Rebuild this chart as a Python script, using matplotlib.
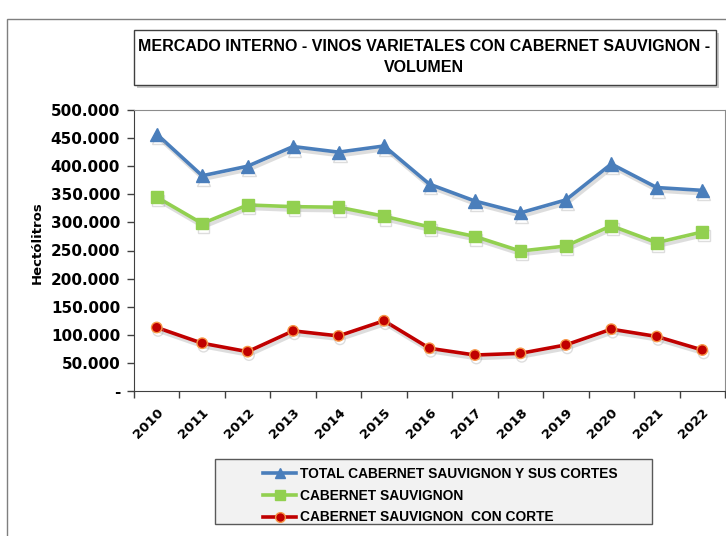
import matplotlib
matplotlib.use('Agg')
import matplotlib.pyplot as plt
import matplotlib.patheffects as pe
from matplotlib.patches import Rectangle
from matplotlib.ticker import FuncFormatter, FixedLocator

# datos (hectólitros)
years = ['2010', '2011', '2012', '2013', '2014', '2015', '2016',
         '2017', '2018', '2019', '2020', '2021', '2022']
total_cs = [457000, 383000, 400000, 435000, 425000, 436000, 368000,
            338000, 317000, 340000, 404000, 362000, 357000]
cab_sauv = [345000, 298000, 331000, 328000, 327000, 311000, 292000,
            275000, 249000, 258000, 294000, 264000, 283000]
cab_corte = [113000, 85000, 70000, 107000, 98000, 125000, 76000,
             64000, 67000, 82000, 110000, 97000, 73000]

W, H = 726, 536
narrow = ['Liberation Sans', 'DejaVu Sans']


def fx(px):
    return px / W


def fy(py):
    return 1 - py / H


fig = plt.figure(figsize=(W / 100, H / 100), dpi=100)

# marco exterior
fig.patches.append(Rectangle((fx(7), fy(560)), fx(760), 560 / H - 19 / H,
                             transform=fig.transFigure, fill=False,
                             edgecolor='#7f7f7f', lw=1))

# caja del titulo con sombra
fig.patches.append(Rectangle((fx(137), fy(88)), fx(582), 55 / H,
                             transform=fig.transFigure, facecolor='#c8c8c8',
                             edgecolor='none'))
fig.patches.append(Rectangle((fx(134), fy(85)), fx(582), 55 / H,
                             transform=fig.transFigure, facecolor='white',
                             edgecolor='#404040', lw=1))
fig.text(fx(424), fy(57), 'MERCADO INTERNO - VINOS VARIETALES CON CABERNET SAUVIGNON -\nVOLUMEN',
         ha='center', va='center', fontsize=11.5, fontweight='bold',
         family=narrow, linespacing=1.45)

ax = fig.add_axes([fx(134), fy(391), fx(591), (391 - 110) / H])
x = list(range(len(years)))

shadow = [pe.SimpleLineShadow(offset=(1, -2.5), shadow_color='#a0a0a0', alpha=0.35),
          pe.Normal()]

ax.plot(x, total_cs, color='#4a7ebb', lw=2.6, marker='^', markersize=9.5,
        markerfacecolor='#4a7ebb', markeredgecolor='#4a7ebb',
        label='TOTAL CABERNET SAUVIGNON Y SUS CORTES', path_effects=shadow, zorder=3)
ax.plot(x, cab_sauv, color='#92d050', lw=2.6, marker='s', markersize=8.5,
        markerfacecolor='#92d050', markeredgecolor='#92d050',
        label='CABERNET SAUVIGNON', path_effects=shadow, zorder=3)
ax.plot(x, cab_corte, color='#c00000', lw=2.6, marker='o', markersize=7.5,
        markerfacecolor='#c00000', markeredgecolor='#f79646', markeredgewidth=1,
        label='CABERNET SAUVIGNON  CON CORTE', path_effects=shadow, zorder=3)

ax.set_xlim(-0.5, len(years) - 0.5)
ax.set_ylim(0, 500000)
ax.set_yticks(range(0, 500001, 50000))
ax.yaxis.set_major_formatter(FuncFormatter(
    lambda v, p: '-' if v == 0 else f'{int(v):,}'.replace(',', '.')))
ax.tick_params(axis='y', labelsize=11, length=5, width=1, color='#404040', pad=5)
for t in ax.get_yticklabels():
    t.set_fontweight('bold')

ax.xaxis.set_major_locator(FixedLocator([i - 0.5 for i in range(len(years) + 1)]))
ax.xaxis.set_major_formatter(FuncFormatter(lambda v, p: ''))
ax.set_xticks(x, minor=True)
ax.set_xticklabels(years, minor=True, rotation=45, ha='right',
                   rotation_mode='anchor', fontsize=9.5, fontweight='bold')
ax.tick_params(axis='x', which='major', length=5, width=1, color='#404040')
ax.tick_params(axis='x', which='minor', length=0, pad=11)

ax.spines['left'].set_color('#404040')
ax.spines['bottom'].set_color('#404040')
ax.spines['top'].set_color('#8c8c8c')
ax.spines['right'].set_color('#8c8c8c')

fig.text(fx(37), fy(243), 'Hectólitros', rotation=90, ha='center', va='center',
         fontsize=9.5, fontweight='bold')

# caja de la leyenda
fig.patches.append(Rectangle((fx(215), fy(524)), fx(437), 65 / H,
                             transform=fig.transFigure, facecolor='#f2f2f2',
                             edgecolor='#595959', lw=1))
handles, labels = ax.get_legend_handles_labels()
leg = fig.legend(handles, labels, loc='upper left',
                 bbox_to_anchor=(fx(255), fy(459)), frameon=False,
                 handlelength=2.4, handletextpad=0.3, labelspacing=0.55,
                 borderpad=0.1, prop={'family': narrow, 'weight': 'bold', 'size': 9.9})
for h in leg.legend_handles:
    h.set_path_effects([])
    h.set_markersize(7)

fig.savefig('out.png', dpi=100)
